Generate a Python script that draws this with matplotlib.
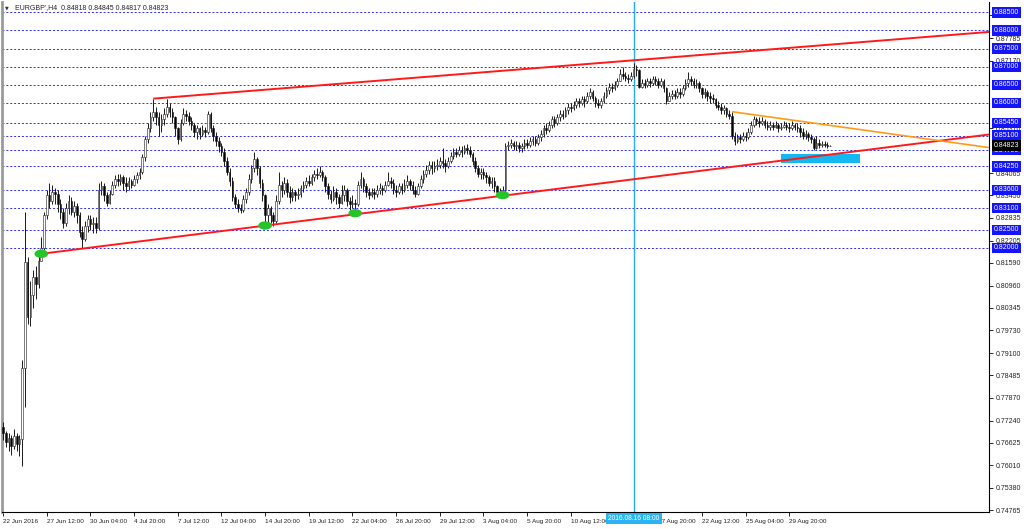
import matplotlib
matplotlib.use("Agg")
import matplotlib.pyplot as plt
from matplotlib.patches import Ellipse, Rectangle

plt.rcParams['font.family'] = ['Liberation Sans', 'DejaVu Sans']

# ---------------- data (H4 bars, EURGBP) ----------------
first_open = 0.7705
closes = [
    .7690, .7665, .7675, .7655, .7680, .7660, .7672, .7870, .8160, .8010,
    .8070, .8120, .8100, .8165, .8200, .8290, .8345, .8330, .8355, .8350,
    .8320, .8300, .8270, .8310, .8330, .8300, .8315, .8290, .8245, .8225,
    .8260, .8280, .8265, .8270, .8255, .8360, .8370, .8345, .8325, .8350,
    .8375, .8390, .8385, .8395, .8380, .8370, .8385, .8375, .8390, .8400,
    .8410, .8450, .8500, .8530, .8560, .8575, .8560, .8540, .8555, .8570,
    .8590, .8575, .8560, .8530, .8500, .8545, .8570, .8565, .8550, .8540,
    .8520, .8530, .8515, .8525, .8520, .8570, .8530, .8510, .8495, .8480,
    .8465, .8440, .8410, .8385, .8340, .8320, .8310, .8305, .8335, .8355,
    .8390, .8420, .8445, .8420, .8380, .8345, .8290, .8310, .8290, .8275,
    .8330, .8375, .8360, .8380, .8355, .8340, .8355, .8345, .8350, .8365,
    .8375, .8385, .8380, .8395, .8405, .8400, .8410, .8395, .8370, .8350,
    .8335, .8355, .8340, .8325, .8345, .8360, .8330, .8320, .8325, .8320,
    .8375, .8390, .8370, .8355, .8345, .8355, .8350, .8360, .8365, .8360,
    .8375, .8385, .8380, .8360, .8355, .8370, .8360, .8375, .8385, .8375,
    .8360, .8350, .8370, .8390, .8405, .8415, .8430, .8420, .8425, .8430,
    .8440, .8435, .8425, .8440, .8455, .8465, .8460, .8470, .8465, .8475,
    .8470, .8460, .8440, .8420, .8405, .8410, .8400, .8395, .8380, .8385,
    .8370, .8355, .8350, .8360, .8480, .8485, .8490, .8480, .8485, .8475,
    .8480, .8490, .8485, .8495, .8500, .8490, .8505, .8515, .8530, .8525,
    .8540, .8555, .8545, .8560, .8570, .8565, .8580, .8590, .8585, .8595,
    .8605, .8600, .8610, .8605, .8620, .8630, .8615, .8600, .8595, .8605,
    .8620, .8635, .8645, .8640, .8650, .8660, .8680, .8675, .8670, .8665,
    .8675, .8695, .8690, .8645, .8655, .8650, .8660, .8655, .8665, .8660,
    .8650, .8660, .8640, .8605, .8620, .8625, .8620, .8630, .8625, .8640,
    .8655, .8665, .8660, .8650, .8655, .8640, .8625, .8630, .8620, .8615,
    .8610, .8595, .8590, .8580, .8585, .8570, .8565, .8510, .8495, .8505,
    .8500, .8510, .8505, .8520, .8540, .8555, .8550, .8545, .8550, .8540,
    .8535, .8540, .8535, .8540, .8530, .8535, .8540, .8535, .8530, .8540,
    .8535, .8530, .8520, .8510, .8515, .8505, .8500, .8475, .8490, .8485,
    .8488, .8485, .84818, .84823,
]
highs = [
    .7720, .7695, .7690, .7685, .7700, .7690, .7685, .7890, .8300, .8175,
    .8110, .8140, .8150, .8185, .8230, .8300, .8360, .8380, .8375, .8365,
    .8360, .8335, .8310, .8325, .8345, .8340, .8330, .8325, .8300, .8260,
    .8275, .8290, .8290, .8285, .8285, .8380, .8385, .8380, .8355, .8360,
    .8385, .8400, .8405, .8405, .8400, .8395, .8395, .8390, .8400, .8410,
    .8420, .8460, .8510, .8545, .8575, .8612, .8590, .8575, .8570, .8585,
    .8610, .8600, .8585, .8565, .8535, .8555, .8585, .8580, .8575, .8560,
    .8545, .8540, .8535, .8540, .8535, .8578, .8575, .8540, .8520, .8505,
    .8490, .8475, .8450, .8420, .8395, .8350, .8335, .8320, .8345, .8365,
    .8405, .8430, .8464, .8450, .8425, .8390, .8350, .8320, .8315, .8300,
    .8345, .8410, .8385, .8395, .8390, .8370, .8365, .8360, .8365, .8375,
    .8385, .8395, .8400, .8405, .8415, .8420, .8425, .8415, .8400, .8380,
    .8360, .8370, .8365, .8350, .8375, .8375, .8365, .8340, .8345, .8335,
    .8385, .8410, .8395, .8380, .8365, .8365, .8365, .8375, .8380, .8375,
    .8385, .8410, .8395, .8390, .8375, .8380, .8380, .8390, .8400, .8390,
    .8385, .8370, .8380, .8400, .8415, .8430, .8440, .8440, .8440, .8445,
    .8450, .8475, .8445, .8450, .8465, .8475, .8475, .8480, .8480, .8485,
    .8488, .8480, .8465, .8450, .8430, .8420, .8420, .8410, .8400, .8395,
    .8395, .8375, .8365, .8370, .8490, .8495, .8500, .8495, .8495, .8492,
    .8490, .8500, .8500, .8505, .8510, .8508, .8515, .8525, .8540, .8545,
    .8550, .8565, .8565, .8570, .8580, .8580, .8590, .8600, .8600, .8605,
    .8615, .8615, .8620, .8620, .8630, .8640, .8635, .8620, .8610, .8615,
    .8630, .8645, .8655, .8655, .8660, .8670, .8695, .8700, .8685, .8680,
    .8685, .8711, .8705, .8695, .8665, .8665, .8670, .8670, .8675, .8675,
    .8668, .8670, .8665, .8645, .8630, .8635, .8635, .8640, .8640, .8650,
    .8665, .8686, .8675, .8670, .8665, .8660, .8645, .8640, .8635, .8630,
    .8625, .8615, .8605, .8600, .8595, .8590, .8580, .8575, .8520, .8515,
    .8515, .8520, .8520, .8530, .8550, .8565, .8562, .8560, .8560, .8555,
    .8550, .8550, .8548, .8550, .8545, .8545, .8550, .8548, .8545, .8550,
    .8545, .8545, .8540, .8530, .8525, .8520, .8515, .8505, .8510, .8500,
    .8495, .8495, .8492, .84845,
]
lows = [
    .7670, .7650, .7640, .7630, .7645, .7640, .7625, .7598, .7760, .7990,
    .7985, .8035, .8060, .8090, .8180, .8195, .8280, .8310, .8320, .8320,
    .8300, .8280, .8255, .8260, .8295, .8290, .8285, .8270, .8230, .8200,
    .8220, .8245, .8250, .8240, .8240, .8250, .8345, .8330, .8315, .8320,
    .8345, .8365, .8370, .8375, .8360, .8355, .8360, .8365, .8370, .8380,
    .8390, .8405, .8440, .8490, .8520, .8550, .8540, .8510, .8520, .8540,
    .8560, .8560, .8545, .8510, .8488, .8495, .8540, .8550, .8540, .8525,
    .8505, .8500, .8500, .8510, .8505, .8515, .8520, .8495, .8480, .8465,
    .8455, .8425, .8400, .8370, .8330, .8310, .8300, .8296, .8300, .8325,
    .8345, .8380, .8410, .8400, .8365, .8330, .8255, .8270, .8270, .8262,
    .8270, .8320, .8340, .8350, .8340, .8325, .8330, .8330, .8335, .8340,
    .8355, .8365, .8370, .8375, .8385, .8390, .8395, .8385, .8355, .8335,
    .8325, .8330, .8320, .8310, .8320, .8330, .8315, .8305, .8310, .8296,
    .8315, .8365, .8355, .8340, .8335, .8340, .8335, .8340, .8350, .8345,
    .8355, .8370, .8365, .8350, .8340, .8350, .8350, .8355, .8365, .8360,
    .8350, .8340, .8345, .8365, .8380, .8395, .8405, .8405, .8410, .8415,
    .8420, .8420, .8410, .8420, .8435, .8445, .8450, .8455, .8450, .8460,
    .8460, .8450, .8430, .8410, .8395, .8390, .8390, .8380, .8370, .8365,
    .8355, .8345, .8340, .8338, .8350, .8470, .8475, .8470, .8470, .8465,
    .8465, .8472, .8475, .8478, .8485, .8480, .8485, .8495, .8505, .8515,
    .8520, .8530, .8535, .8540, .8550, .8555, .8560, .8570, .8575, .8580,
    .8585, .8590, .8595, .8590, .8600, .8610, .8605, .8590, .8585, .8585,
    .8600, .8615, .8625, .8630, .8635, .8645, .8660, .8665, .8660, .8655,
    .8660, .8670, .8675, .8640, .8640, .8640, .8645, .8645, .8650, .8650,
    .8640, .8645, .8630, .8598, .8605, .8610, .8610, .8615, .8615, .8620,
    .8635, .8645, .8650, .8640, .8640, .8630, .8615, .8615, .8605, .8600,
    .8600, .8585, .8580, .8570, .8570, .8560, .8555, .8500, .8483, .8490,
    .8490, .8495, .8495, .8500, .8515, .8535, .8540, .8535, .8540, .8530,
    .8525, .8525, .8525, .8530, .8520, .8525, .8530, .8525, .8520, .8525,
    .8525, .8520, .8505, .8500, .8500, .8495, .8490, .8470, .8472, .8475,
    .8478, .8478, .8475, .84817,
]

# the 15 Aug 04:00 label is hidden behind the cursor date box in the reference
x_labels = ["22 Jun 2016", "27 Jun 12:00", "30 Jun 04:00", "4 Jul 20:00", "7 Jul 12:00",
            "12 Jul 04:00", "14 Jul 20:00", "19 Jul 12:00", "22 Jul 04:00", "26 Jul 20:00",
            "29 Jul 12:00", "3 Aug 04:00", "5 Aug 20:00", "10 Aug 12:00", "",
            "17 Aug 20:00", "22 Aug 12:00", "25 Aug 04:00", "29 Aug 20:00"]
bars_per_label = 16

plain_ticks = [0.88415, 0.87785, 0.87170, 0.85310, 0.84065,
               0.83450, 0.82835, 0.82205, 0.81590, 0.80960, 0.80345, 0.79730, 0.79100,
               0.78485, 0.77870, 0.77240, 0.76625, 0.76010, 0.75380, 0.74765]
levels = [0.88500, 0.88000, 0.87500, 0.87000, 0.86500, 0.86000, 0.85450, 0.85100,
          0.84700, 0.84250, 0.83600, 0.83100, 0.82500, 0.82000]
current_price = 0.84823
title_txt = "EURGBP',H4  0.84818 0.84845 0.84817 0.84823"

# drawing objects (bar index, price)
lower_trend = ([14, 361.2], [0.8184, 0.8513])
upper_trend = ([55, 361.2], [0.8612, 0.8796])
orange_trend = ([267, 361.2], [0.8576, 0.8477])
touch_points = ([14, 96, 129, 183], [0.8184, 0.8262, 0.8296, 0.8346])
vline_bar = 231
vline_label = "2016.08.16 08:00"
zone = (285, 314, 0.8434, 0.8458)

# ---------------- figure ----------------
W, H = 1024, 529
fig = plt.figure(figsize=(W / 100, H / 100), dpi=100)
ax = fig.add_axes([2 / W, 17 / H, 987 / W, 510 / H])
ax.set_xlim(-0.4, 361.2)
ax.set_ylim(0.74717, 0.88786)

n = len(closes)
xs = list(range(n))
opens = [first_open] + closes[:-1]
hi = [max(h, o, c) for h, o, c in zip(highs, opens, closes)]
lo = [min(l, o, c) for l, o, c in zip(lows, opens, closes)]

# horizontal levels
for lv in levels:
    ax.axhline(lv, color='#2b2bff', lw=0.7, ls=(0, (2, 2)), zorder=1)

# candles
ax.vlines(xs, lo, hi, color='#1a1a1a', lw=0.7, zorder=3)
bottoms = [min(o, c) for o, c in zip(opens, closes)]
heights = [max(abs(c - o), 0.00004) for o, c in zip(opens, closes)]
fcs = ['white' if c >= o else 'black' for o, c in zip(opens, closes)]
ax.bar(xs, heights, bottom=bottoms, width=0.6, color=fcs, edgecolor='#1a1a1a',
       linewidth=0.4, zorder=4)

# vertical line
ax.axvline(vline_bar, color='#22a8ff', lw=1.0, zorder=2)

# trend lines
ax.plot(*lower_trend, color='#ff1a1a', lw=1.4, zorder=5, solid_capstyle='butt')
ax.plot(*upper_trend, color='#ff1a1a', lw=1.4, zorder=5, solid_capstyle='butt')
ax.plot(*orange_trend, color='#ff9a1a', lw=1.2, zorder=5, solid_capstyle='butt')

# zone rectangle
ax.add_patch(Rectangle((zone[0], zone[2]), zone[1] - zone[0], zone[3] - zone[2],
                       facecolor='#12b8f2', edgecolor='none', zorder=4))

# touch ellipses
for bx, bp in zip(*touch_points):
    ax.add_patch(Ellipse((bx, bp), width=5.0, height=0.0023, facecolor='#27c427',
                         edgecolor='none', zorder=6))

# axes styling
ax.spines['top'].set_visible(False)
ax.spines['left'].set_color('#9a9a9a')
ax.spines['left'].set_linewidth(2)
ax.spines['right'].set_color('black')
ax.spines['bottom'].set_color('black')
ax.spines['right'].set_linewidth(0.8)
ax.spines['bottom'].set_linewidth(0.8)

ax.yaxis.tick_right()
ax.set_yticks(plain_ticks)
ax.set_yticklabels([f"{v:.5f}" for v in plain_ticks], fontsize=5, color='#222222')
ax.tick_params(axis='y', length=3, width=0.6, pad=1.5)

ax.set_xticks([i * bars_per_label for i in range(len(x_labels))])
ax.set_xticklabels(x_labels, fontsize=4.6, color='#222222')
for lbl in ax.get_xticklabels():
    lbl.set_ha('left')
ax.tick_params(axis='x', length=3, width=0.6, pad=2)

ytr = ax.get_yaxis_transform()
for lv in levels:
    ax.text(1.0 + 5 / 987, lv, f"{lv:.5f}", transform=ytr, ha='left', va='center',
            fontsize=5, color='white', zorder=10,
            bbox=dict(boxstyle='square,pad=0.25', fc='#1414ff', ec='none'))
ax.text(1.0 + 5 / 987, current_price, f"{current_price:.5f}", transform=ytr, ha='left',
        va='center', fontsize=5, color='white', zorder=11,
        bbox=dict(boxstyle='square,pad=0.25', fc='black', ec='none'))

xtr = ax.get_xaxis_transform()
ax.text(vline_bar, -3 / 510, vline_label, transform=xtr, ha='center', va='top',
        fontsize=4.8, color='white', zorder=11,
        bbox=dict(boxstyle='square,pad=0.35', fc='#2ab4f5', ec='none'))

# title
fig.text(5 / W, 1 - 8 / H, "\u25bc", fontsize=3.5, color='#333333', va='center',
         family=['DejaVu Sans'])
fig.text(15 / W, 1 - 8 / H, title_txt, fontsize=5, color='#222222', va='center')

fig.savefig("out.png", dpi=100, facecolor='white')
